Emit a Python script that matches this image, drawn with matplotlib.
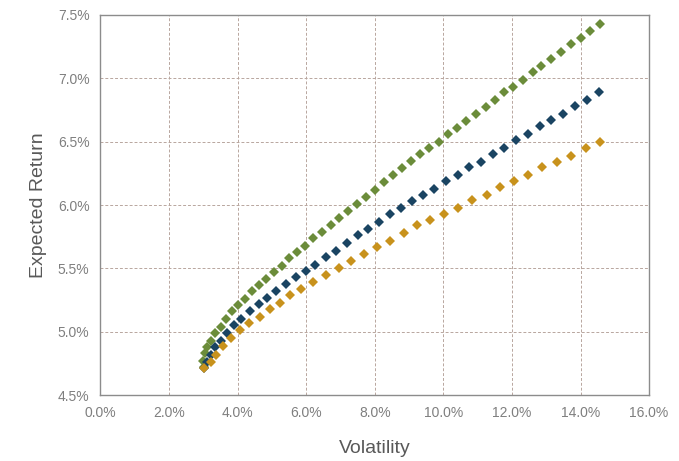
import matplotlib
matplotlib.use("Agg")
import matplotlib.pyplot as plt
from matplotlib.ticker import FuncFormatter, MultipleLocator

plt.rcParams["font.family"] = ["Liberation Sans", "DejaVu Sans"]

# volatility (%) and expected return (%)
green_vol = [3.02, 3.00, 3.05, 3.12, 3.22, 3.35, 3.50, 3.66, 3.84, 4.02,
             4.22, 4.41, 4.62, 4.83, 5.05, 5.28, 5.51, 5.74, 5.97, 6.21,
             6.47, 6.72, 6.97, 7.23, 7.49, 7.75, 8.01, 8.26, 8.52, 8.78,
             9.06, 9.33, 9.59, 9.86, 10.14, 10.40, 10.67, 10.94, 11.23, 11.50,
             11.76, 12.04, 12.33, 12.60, 12.86, 13.15, 13.44, 13.71, 14.00, 14.27,
             14.58]
green_ret = [4.72, 4.77, 4.83, 4.88, 4.93, 4.99, 5.04, 5.10, 5.16, 5.21,
             5.26, 5.32, 5.37, 5.42, 5.47, 5.52, 5.58, 5.63, 5.68, 5.74,
             5.79, 5.84, 5.90, 5.95, 6.01, 6.06, 6.12, 6.18, 6.24, 6.29,
             6.35, 6.40, 6.45, 6.50, 6.56, 6.61, 6.66, 6.72, 6.77, 6.83,
             6.89, 6.93, 6.99, 7.05, 7.10, 7.15, 7.21, 7.27, 7.32, 7.37,
             7.43]

blue_vol = [3.02, 3.10, 3.22, 3.34, 3.50, 3.68, 3.88, 4.11, 4.36, 4.62,
            4.87, 5.13, 5.40, 5.70, 5.98, 6.27, 6.59, 6.88, 7.19, 7.50,
            7.81, 8.11, 8.44, 8.76, 9.09, 9.40, 9.74, 10.09, 10.43, 10.76,
            11.10, 11.45, 11.78, 12.12, 12.47, 12.81, 13.15, 13.50, 13.85, 14.20,
            14.53]
blue_ret = [4.71, 4.76, 4.82, 4.88, 4.93, 4.99, 5.05, 5.10, 5.16, 5.22,
            5.27, 5.32, 5.38, 5.43, 5.48, 5.53, 5.59, 5.64, 5.70, 5.76,
            5.81, 5.87, 5.93, 5.98, 6.03, 6.08, 6.13, 6.19, 6.24, 6.30,
            6.34, 6.40, 6.45, 6.51, 6.56, 6.62, 6.67, 6.72, 6.78, 6.83,
            6.89]

gold_vol = [3.02, 3.22, 3.37, 3.57, 3.80, 4.07, 4.34, 4.64, 4.93, 5.24,
            5.54, 5.86, 6.21, 6.58, 6.95, 7.31, 7.68, 8.07, 8.44, 8.84,
            9.23, 9.62, 10.01, 10.42, 10.83, 11.26, 11.64, 12.06, 12.47, 12.88,
            13.30, 13.71, 14.15, 14.56]
gold_ret = [4.71, 4.76, 4.82, 4.89, 4.95, 5.01, 5.07, 5.12, 5.18, 5.23,
            5.29, 5.34, 5.39, 5.45, 5.50, 5.56, 5.61, 5.67, 5.72, 5.78,
            5.84, 5.88, 5.93, 5.98, 6.04, 6.08, 6.14, 6.19, 6.24, 6.30,
            6.34, 6.39, 6.45, 6.50]

fig = plt.figure(figsize=(6.79, 4.61), dpi=100)
ax = fig.add_axes([0.148, 0.143, 0.808, 0.8245])

ax.plot(green_vol, green_ret, "D", color="#6B8C3A", ms=5.6, mew=0, zorder=3)
ax.plot(blue_vol, blue_ret, "D", color="#1A4462", ms=5.6, mew=0, zorder=3)
ax.plot(gold_vol, gold_ret, "D", color="#C8921C", ms=5.6, mew=0, zorder=3)

ax.set_xlim(0, 16)
ax.set_ylim(4.5, 7.5)
ax.xaxis.set_major_locator(MultipleLocator(2))
ax.yaxis.set_major_locator(MultipleLocator(0.5))
ax.xaxis.set_major_formatter(FuncFormatter(lambda v, p: f"{v:.1f}%"))
ax.yaxis.set_major_formatter(FuncFormatter(lambda v, p: f"{v:.1f}%"))

ax.grid(True, color="#B8A69E", linestyle=(0, (3, 2)), linewidth=0.7, zorder=0)
ax.set_axisbelow(True)
for s in ax.spines.values():
    s.set_color("#8C8C8C")
    s.set_linewidth(1.0)

ax.tick_params(length=0, labelsize=10, labelcolor="#7F7F7F", pad=8)
ax.set_xlabel("Volatility", fontsize=14, color="#595959", labelpad=14)
ax.set_ylabel("Expected Return", fontsize=14, color="#595959", labelpad=8)

fig.savefig("out.png", dpi=100)
